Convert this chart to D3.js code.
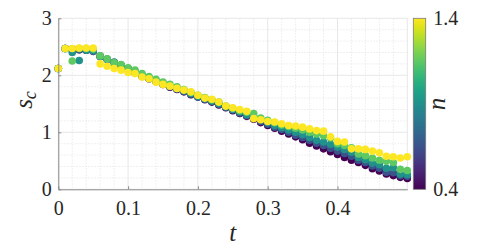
<!DOCTYPE html>
<html>
<head>
<meta charset="UTF-8">
<script src="https://cdn.jsdelivr.net/npm/d3@7"></script>
</head>
<body style="margin:0">
<script>
// sample times
var tVals = [0,0.01,0.02,0.03,0.04,0.05,0.06,0.07,0.08,0.09,0.10,0.11,0.12,0.13,0.14,0.15,0.16,0.17,0.18,0.19,
             0.20,0.21,0.22,0.23,0.24,0.25,0.26,0.27,0.28,0.29,0.30,0.31,0.32,0.33,0.34,0.35,0.36,0.37,0.38,0.39,
             0.40,0.41,0.42,0.43,0.44,0.45,0.46,0.47,0.48,0.49,0.50];

// n values of the series (colour)
var nVals = [0.4, 0.65, 0.9, 1.15, 1.4];

// s_c for each n
var sc04 = [2.12,2.47,2.46,2.45,2.44,2.42,2.33,2.28,2.22,2.16,2.10,2.04,
            1.98,1.94,1.89,1.84,1.79,1.75,1.71,1.66,1.62,1.57,
            1.53,1.48,1.43,1.38,1.33,1.28,1.23,1.17,1.12,1.07,
            1.02,0.97,0.92,0.87,0.81,0.76,0.71,0.66,0.61,0.56,
            0.51,0.47,0.42,0.36,0.32,0.27,0.24,0.21,0.19];
var sc065 = [2.12,2.47,2.46,2.45,2.44,2.42,2.33,2.28,2.23,2.17,2.11,2.05,
            1.99,1.94,1.89,1.85,1.80,1.76,1.72,1.67,1.62,1.58,
            1.54,1.49,1.44,1.39,1.34,1.29,1.25,1.19,1.14,1.09,
            1.05,1.00,0.95,0.91,0.86,0.81,0.77,0.72,0.67,0.63,
            0.58,0.51,0.47,0.41,0.37,0.30,0.29,0.24,0.23];
var sc09 = [2.12,2.47,2.40,2.26,2.44,2.43,2.34,2.28,2.23,2.18,2.12,2.06,
            2.00,1.95,1.90,1.86,1.81,1.77,1.73,1.68,1.63,1.59,
            1.55,1.50,1.45,1.40,1.36,1.31,1.27,1.22,1.17,1.12,
            1.08,1.04,1.00,0.96,0.91,0.86,0.83,0.79,0.74,0.70,
            0.65,0.56,0.52,0.46,0.43,0.37,0.38,0.27,0.26];
var sc115 = [2.12,2.47,2.25,2.47,2.47,2.46,2.34,2.29,2.22,2.19,2.13,2.09,
            2.03,1.98,1.93,1.88,1.84,1.80,1.75,1.70,1.65,1.61,
            1.57,1.53,1.46,1.42,1.38,1.35,1.33,1.25,1.21,1.17,
            1.13,1.10,1.07,1.04,1.00,0.97,0.94,0.90,0.80,0.77,
            0.73,0.62,0.59,0.55,0.51,0.49,0.47,0.35,0.33];
var sc14 = [2.12,2.47,2.47,2.48,2.48,2.48,2.20,2.16,2.12,2.09,2.05,2.03,
            1.97,1.94,1.88,1.84,1.81,1.77,1.74,1.71,1.65,1.60,
            1.58,1.53,1.46,1.43,1.40,1.37,1.24,1.22,1.19,1.18,
            1.15,1.12,1.11,1.09,1.06,1.03,1.02,0.92,0.84,0.83,
            0.71,0.71,0.70,0.67,0.64,0.58,0.57,0.55,0.57];

var series = [sc04, sc065, sc09, sc115, sc14];

var xTicks = [0, 0.1, 0.2, 0.3, 0.4];
var yTicks = [0, 1, 2, 3];
var cTicks = [0.4, 1.4];

var fontFam = "'Liberation Serif'";

var svg = d3.select("body").append("svg")
    .attr("width", 498)
    .attr("height", 251);

var pLeft = 58.3, pRight = 407.3, pTop = 18.3, pBottom = 189.3;

var x = d3.scaleLinear().domain([0, 0.5]).range([pLeft, pRight]);
var y = d3.scaleLinear().domain([0, 3]).range([pBottom, pTop]);
var color = d3.scaleSequential(d3.interpolateViridis).domain([0.4, 1.4]);

// minor grid
var xMinor = d3.range(0.02, 0.5, 0.02).filter(v => Math.abs(v * 10 - Math.round(v * 10)) > 1e-6);
var yMinor = d3.range(0.2, 3, 0.2).filter(v => Math.abs(v - Math.round(v)) > 1e-6);

svg.append("g").selectAll("line").data(xMinor).enter().append("line")
    .attr("x1", d => x(d)).attr("x2", d => x(d))
    .attr("y1", pTop).attr("y2", pBottom)
    .attr("stroke", "#e2e2e2").attr("stroke-width", 0.7).attr("stroke-dasharray", "1.5,1.5");
svg.append("g").selectAll("line").data(yMinor).enter().append("line")
    .attr("x1", pLeft).attr("x2", pRight)
    .attr("y1", d => y(d)).attr("y2", d => y(d))
    .attr("stroke", "#e2e2e2").attr("stroke-width", 0.7).attr("stroke-dasharray", "1.5,1.5");

// major grid
svg.append("g").selectAll("line").data(xTicks.concat([0.5])).enter().append("line")
    .attr("x1", d => x(d)).attr("x2", d => x(d))
    .attr("y1", pTop).attr("y2", pBottom)
    .attr("stroke", "#e4e4e4").attr("stroke-width", 0.9);
svg.append("g").selectAll("line").data(yTicks).enter().append("line")
    .attr("x1", pLeft).attr("x2", pRight)
    .attr("y1", d => y(d)).attr("y2", d => y(d))
    .attr("stroke", "#e4e4e4").attr("stroke-width", 0.9);

// points, low n first so yellow ends on top
series.forEach(function(s, k) {
    svg.append("g").selectAll("circle")
        .data(tVals.map((t, i) => ({t: t, s: s[i]})))
        .enter().append("circle")
        .attr("cx", d => x(d.t))
        .attr("cy", d => y(d.s))
        .attr("r", 3.8)
        .attr("fill", color(nVals[k]));
});

// axes
var gx = svg.append("g")
    .attr("transform", "translate(0," + pBottom + ")")
    .call(d3.axisBottom(x).tickValues(xTicks).tickFormat(d3.format("")).tickSizeInner(-3).tickSizeOuter(0).tickPadding(12));
var gy = svg.append("g")
    .attr("transform", "translate(" + pLeft + ",0)")
    .call(d3.axisLeft(y).tickValues(yTicks).tickFormat(d3.format("")).tickSizeInner(-3).tickSizeOuter(0).tickPadding(6.5));
[gx, gy].forEach(function(g) {
    g.attr("font-family", null).attr("font-size", null);
    g.select(".domain").attr("stroke", "#8a8a8a").attr("stroke-width", 1);
    g.selectAll(".tick line").attr("stroke", "#8a8a8a");
    g.selectAll(".tick text").attr("font-size", 20).attr("fill", "#262626").style("font-family", fontFam);
});

// axis labels
svg.append("text")
    .attr("x", (pLeft + pRight) / 2).attr("y", 241)
    .attr("text-anchor", "middle")
    .attr("font-size", 25).attr("fill", "#262626")
    .style("font-family", fontFam).style("font-style", "italic")
    .text("t");

var yl = svg.append("text")
    .attr("transform", "translate(32,100) rotate(-90)")
    .attr("text-anchor", "middle")
    .attr("font-size", 25).attr("fill", "#262626")
    .style("font-family", fontFam).style("font-style", "italic");
yl.append("tspan").text("s");
yl.append("tspan").attr("font-size", 18).attr("dy", 4).text("c");

// colorbar
var cbX = 413.3, cbW = 12.4;
var cy = d3.scaleLinear().domain([0.4, 1.4]).range([pBottom, pTop]);
var defs = svg.append("defs");
var grad = defs.append("linearGradient").attr("id", "cbgrad")
    .attr("x1", 0).attr("y1", 1).attr("x2", 0).attr("y2", 0);
grad.selectAll("stop").data(d3.range(0, 1.0001, 0.05)).enter().append("stop")
    .attr("offset", d => d)
    .attr("stop-color", d => d3.interpolateViridis(d));
svg.append("rect")
    .attr("x", cbX).attr("y", pTop)
    .attr("width", cbW).attr("height", pBottom - pTop)
    .attr("fill", "url(#cbgrad)")
    .attr("stroke", "#7a7a7a").attr("stroke-width", 0.8);
var gc = svg.append("g")
    .attr("transform", "translate(" + (cbX + cbW) + ",0)")
    .call(d3.axisRight(cy).tickValues(cTicks).tickSize(0).tickPadding(7.5));
gc.attr("font-family", null).attr("font-size", null);
gc.select(".domain").remove();
gc.selectAll(".tick text").attr("font-size", 20).attr("fill", "#262626").style("font-family", fontFam);

svg.append("text")
    .attr("transform", "translate(445,104) rotate(-90)")
    .attr("text-anchor", "middle")
    .attr("font-size", 25).attr("fill", "#262626")
    .style("font-family", fontFam).style("font-style", "italic")
    .text("n");
</script>
</body>
</html>
